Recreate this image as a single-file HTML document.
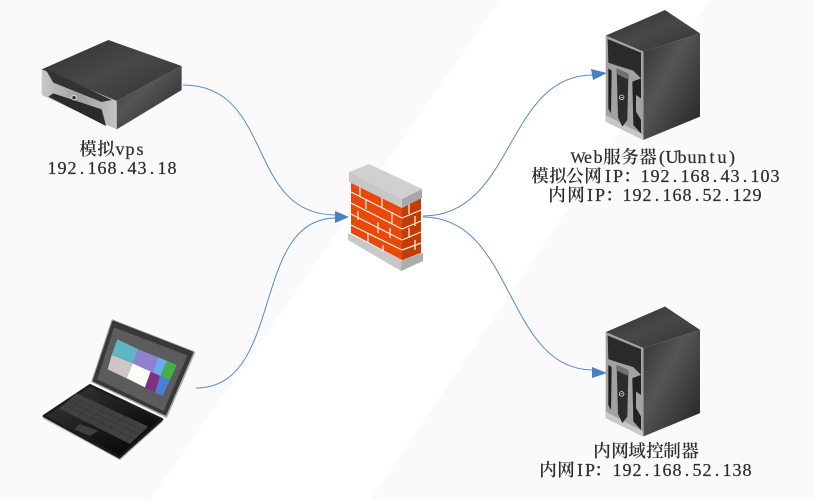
<!DOCTYPE html>
<html>
<head>
<meta charset="utf-8">
<style>
html,body{margin:0;padding:0;background:#fff;width:815px;height:500px;overflow:hidden}
svg{display:block}
.t{font-family:"Liberation Serif",serif;font-size:18px;fill:#2e2e2e;text-anchor:middle;stroke:#2e2e2e;stroke-width:.25}
.c{font-family:"Noto Serif CJK SC","Noto Sans CJK SC",serif;font-size:17.5px;font-weight:600;fill:#2e2e2e;text-anchor:middle}
</style>
</head>
<body>
<svg width="815" height="500" viewBox="0 0 815 500" xmlns="http://www.w3.org/2000/svg">
<defs>
<linearGradient id="top" x1="0" y1="0" x2="1" y2="1"><stop offset="0" stop-color="#2f2f2f"/><stop offset=".5" stop-color="#484848"/><stop offset="1" stop-color="#333"/></linearGradient>
<linearGradient id="side" x1="0" y1="0" x2="1" y2="1"><stop offset="0" stop-color="#333"/><stop offset=".4" stop-color="#555"/><stop offset="1" stop-color="#222"/></linearGradient>
<linearGradient id="metal" x1="0" y1="0" x2="1" y2="0"><stop offset="0" stop-color="#c8c8c8"/><stop offset=".5" stop-color="#a0a0a0"/><stop offset="1" stop-color="#c4c4c4"/></linearGradient>
<linearGradient id="lapb" x1="0" y1="0" x2="1" y2="1"><stop offset="0" stop-color="#3a3a3a"/><stop offset=".6" stop-color="#161616"/><stop offset="1" stop-color="#000"/></linearGradient>
<g id="tower">
<polygon points="47,107 225,30 330,100 160,155" fill="url(#top)"/>
<polygon points="160,155 330,100 330,350 160,420" fill="url(#side)"/>
<polygon points="47,107 160,155 160,420 47,365" fill="#a2a2a2"/>
<polygon points="47,365 160,420 160,405 47,345" fill="#c8c8c8"/>
<polygon points="53,117 153,158 153,235 130,212 85,198 55,188" fill="#2a2a2a"/>
<polygon points="80,205 115,225 112,360 97,380 84,352" fill="#2c2c2c"/>
<polygon points="80,205 115,220 113,238 80,222" fill="#707070"/>
<polygon points="55,205 65,212 63,340 55,325" fill="#1c1c1c"/>
<polygon points="127,245 153,235 153,295 138,285 138,335 153,360 153,400 130,375" fill="#222"/>
<circle cx="95" cy="292" r="8" fill="#ddd"/><circle cx="95" cy="292" r="5.5" fill="#222"/>
<rect x="91" y="291" width="8" height="2" fill="#ddd"/>
</g>
</defs>
<rect width="815" height="500" fill="#fff"/>
<polygon points="0,0 500,0 150,500 0,500" fill="#fafafa"/>
<polygon points="710,0 815,0 815,500 370,500" fill="#fafafa"/>

<!-- connectors -->
<g fill="none" stroke="#5a8ac6" stroke-width="1">
<path d="M183 85C275 85 245 215 336 215"/>
<path d="M196 388C285 388 250 218 336 218"/>
<path d="M423 216C515 216 505 75 593 75"/>
<path d="M423 217C515 217 505 370 593 370"/>
</g>
<g fill="#4a7fc4">
<polygon points="349,217 335,211 335,223"/>
<polygon points="607,73 591,69 593,80"/>
<polygon points="607,373 592,367 592,378"/>
</g>

<!-- vps box -->
<g transform="translate(30,40) scale(.33333)">
<polygon points="35,88 235,0 455,78 260,183" fill="url(#top)"/>
<polygon points="260,183 455,78 455,150 260,268" fill="url(#side)"/>
<polygon points="35,88 260,183 260,268 35,165" fill="url(#metal)"/>
<polygon points="45,85 245,180 215,186 70,128" fill="#333"/>
<polygon points="55,170 70,160 215,208 228,258" fill="#2b2b2b"/>
<circle cx="132" cy="173" r="8" fill="#ddd"/><circle cx="132" cy="173" r="5" fill="#222"/>
</g>

<!-- laptop -->
<g transform="translate(30,310) scale(.33333)">
<polygon points="247,31 493,127 409,320 187,214" fill="#a8a8a8" stroke="#a8a8a8" stroke-width="6" stroke-linejoin="round"/>
<polygon points="250,36 486,128 406,312 192,212" fill="#383838" stroke="#383838" stroke-width="8" stroke-linejoin="round"/>
<polygon points="252,52 472,136 401,303 202,208" fill="#5c5c5c"/>
<polygon points="262,88 325,118 308,160 245,135" fill="#5fb5c2"/>
<polygon points="325,118 385,142 368,188 308,160" fill="#9080d2"/>
<polygon points="385,142 410,152 392,198 368,188" fill="#6cabf0"/>
<polygon points="410,152 440,165 420,210 392,198" fill="#43b04c"/>
<polygon points="245,135 308,160 290,205 233,178" fill="#cfc5c8"/>
<polygon points="308,160 362,185 345,232 290,205" fill="#f9fdf6"/>
<polygon points="362,185 390,198 375,248 345,232" fill="#812f80"/>
<polygon points="390,198 420,210 398,258 375,248" fill="#4a7fd8"/>
<polygon points="180,230 395,334 270,447 42,324" fill="#c0c0c0" stroke="#c0c0c0" stroke-width="6" stroke-linejoin="round"/>
<polygon points="180,226 396,328 268,442 42,318" fill="url(#lapb)" stroke="#1c1c1c" stroke-width="8" stroke-linejoin="round"/>
<polygon points="140,250 355,350 300,402 88,295" fill="#414141"/>
<g stroke="#2e2e2e" stroke-width="1.5" fill="none">
<path d="M127 262L342 362M114 273L329 374M101 284L316 388"/>
<path d="M165 262L113 307M195 276L143 321M225 290L173 335M255 304L203 349M285 318L233 363M315 332L263 377"/>
</g>
<polygon points="148,342 205,362 180,378 133,358" fill="#3f3f3f"/>
</g>

<!-- firewall -->
<polygon points="348,233 402,260 423,253 423,261 401,271 348,240" fill="#c8c8c8"/>
<polygon points="402,260 423,253 423,261 401,271" fill="#adadad"/>
<polygon points="351,182 402,208 402,260 351,233" fill="#e8480a"/>
<polygon points="402,208 421,198 421,253 402,260" fill="#c23c05"/>
<g stroke="#fdeee6" stroke-width="1.2" fill="none">
<path d="M351 192L402 218M351 203L402 229M351 214L402 240M351 225L402 250"/>
<path d="M402 218L421 210M402 229L421 221M402 240L421 232M402 250L421 243"/>
<path d="M360 187V197M382 198V208M366 199V209M392 212V224M358 211V220M378 222V233M390 228V238M368 233V242M383 245V252M409 204V214M415 216V226M409 228V238M415 240V250"/>
</g>
<polygon points="349,172 369,164 422,189 402,199" fill="#d0d0d0"/>
<polygon points="349,172 402,199 402,208 349,182" fill="#c8c8c8"/>
<polygon points="402,199 422,189 422,198 402,208" fill="#a8a8a8"/>

<!-- towers -->
<use href="#tower" transform="translate(590,0) scale(.33333)"/>
<use href="#tower" transform="translate(590,296.5) scale(.33333)"/>

<!-- labels -->
<text class="c" x="88 106" y="155">模拟</text>
<text class="t" x="120 130 140" y="155">vps</text>
<text class="t" x="52 62 72 82 92 102 112 122 132 142 152 162 172" y="174">192.168.43.18</text>

<text class="t" x="578" y="163" style="font-size:16px">W</text>
<text class="t" x="588 598" y="163">eb</text>
<text class="c" x="612 630 648" y="163">服务器</text>
<text class="t" x="662 672 682 692 702 712 722 732" y="163">(Ubuntu)</text>

<text class="c" x="540 558 575 593" y="182">模拟公网</text>
<text class="t" x="608 618" y="182">IP</text>
<text class="c" x="632" y="182">：</text>
<text class="t" x="645 655 665 675 685 695 705 715 725 735 745 755 765 775" y="182">192.168.43.103</text>

<text class="c" x="557 576" y="201">内网</text>
<text class="t" x="590 600" y="201">IP</text>
<text class="c" x="614" y="201">：</text>
<text class="t" x="627 637 647 657 667 677 687 697 707 717 727 737 747 757" y="201">192.168.52.129</text>

<text class="c" x="602 620 637 655 672 690" y="457">内网域控制器</text>

<text class="c" x="548 566" y="476">内网</text>
<text class="t" x="580 590" y="476">IP</text>
<text class="c" x="603" y="476">：</text>
<text class="t" x="617 627 637 647 657 667 677 687 697 707 717 727 737 747" y="476">192.168.52.138</text>
</svg>
</body>
</html>
